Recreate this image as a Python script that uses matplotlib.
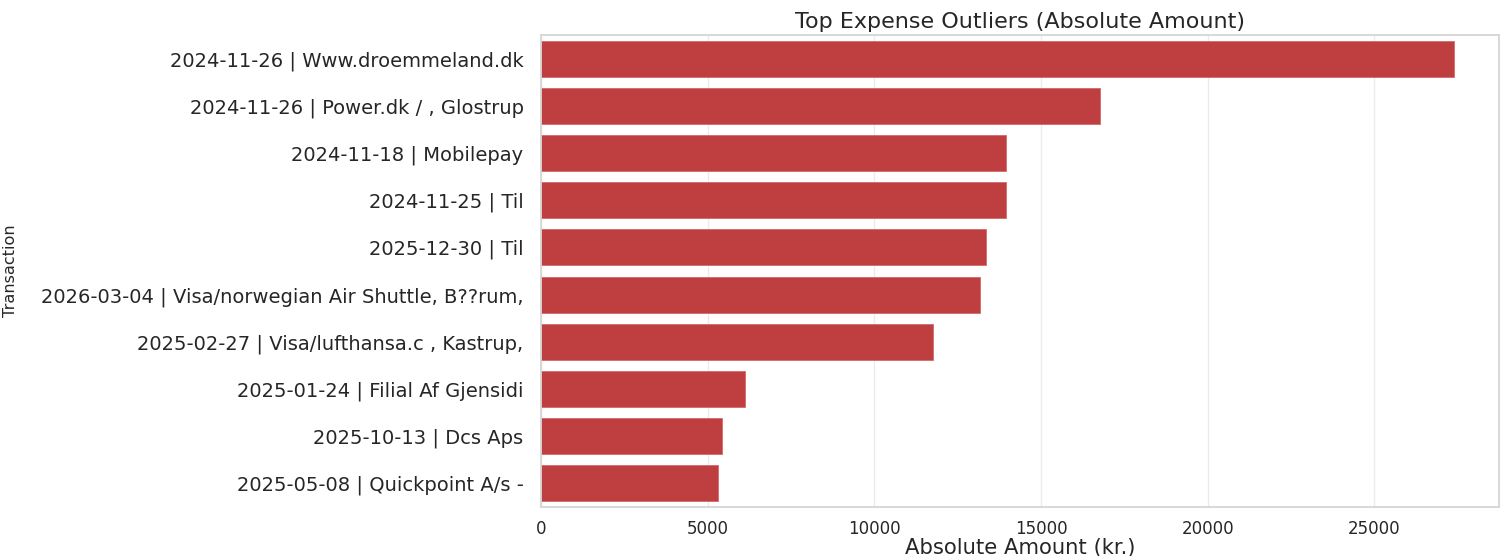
import matplotlib
matplotlib.use("Agg")
import matplotlib.pyplot as plt
import seaborn as sns

labels = [
    "2024-11-26 | Www.droemmeland.dk",
    "2024-11-26 | Power.dk / , Glostrup",
    "2024-11-18 | Mobilepay",
    "2024-11-25 | Til",
    "2025-12-30 | Til",
    "2026-03-04 | Visa/norwegian Air Shuttle, B??rum,",
    "2025-02-27 | Visa/lufthansa.c , Kastrup,",
    "2025-01-24 | Filial Af Gjensidi",
    "2025-10-13 | Dcs Aps",
    "2025-05-08 | Quickpoint A/s -",
]
amounts = [27380, 16780, 13955, 13955, 13355, 13175, 11765, 6120, 5430, 5310]
xticks = [0, 5000, 10000, 15000, 20000, 25000]

sns.set_theme(style="whitegrid")
plt.rcParams["font.family"] = ["DejaVu Sans"]
text_color = "#262626"

fig = plt.figure(figsize=(15.06, 5.56), dpi=100)
ax = fig.add_axes([0.3592, 0.0881, 0.6363, 0.849])

y = list(range(len(labels)))
ax.barh(y, amounts, height=0.76, color="#bf3e3f", edgecolor="#d06a6b", linewidth=0.6)
ax.set_yticks(y)
ax.set_yticklabels(labels, fontsize=14, color=text_color)
ax.set_ylim(len(labels) - 0.5, -0.5)
ax.set_xlim(0, max(amounts) * 1.05)
ax.set_xticks(xticks)
ax.set_xticklabels([str(t) for t in xticks], fontsize=12, color=text_color)
ax.tick_params(axis="y", pad=6.5)
ax.tick_params(axis="x", pad=3)
ax.grid(axis="y", visible=False)
ax.grid(axis="x", color="#ebebeb", linewidth=1)
for s in ax.spines.values():
    s.set_color("#d5d5d5")
    s.set_linewidth(1.3)

ax.set_title("Top Expense Outliers (Absolute Amount)", fontsize=16,
             color=text_color, pad=5)
ax.set_xlabel("Absolute Amount (kr.)", fontsize=15.2, color=text_color, labelpad=0)
ax.set_ylabel("Transaction", fontsize=11.6, color=text_color)
ax.yaxis.set_label_coords(-0.546, 0.5)

fig.savefig("out.png", dpi=100)
